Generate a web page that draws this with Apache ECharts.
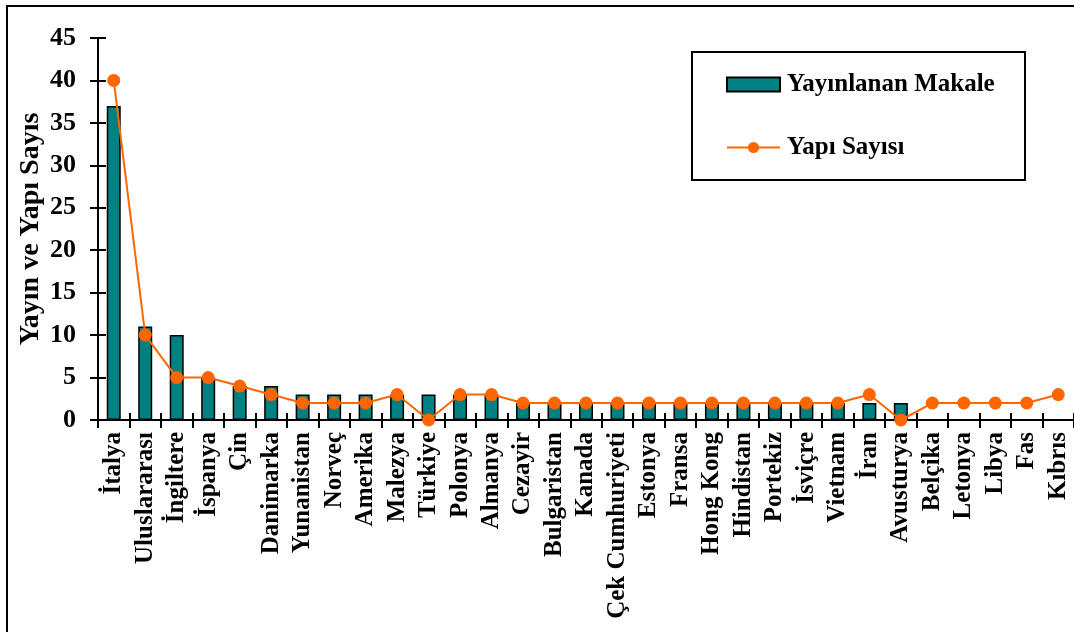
<!DOCTYPE html>
<html>
<head>
<meta charset="utf-8">
<script src="https://cdn.jsdelivr.net/npm/echarts@6/dist/echarts.min.js"></script>
<style>
html, body { margin: 0; padding: 0; background: #fff; }
#chart { width: 1074px; height: 632px; }
</style>
</head>
<body>
<div id="chart"></div>
<script>
// ulkeler
var countries = ['İtalya', 'Uluslararası', 'İngiltere', 'İspanya', 'Çin', 'Danimarka', 'Yunanistan',
    'Norveç', 'Amerika', 'Malezya', 'Türkiye', 'Polonya', 'Almanya', 'Cezayir', 'Bulgaristan',
    'Kanada', 'Çek Cumhuriyeti', 'Estonya', 'Fransa', 'Hong Kong', 'Hindistan', 'Portekiz',
    'İsviçre', 'Vietnam', 'İran', 'Avusturya', 'Belçika', 'Letonya', 'Libya', 'Fas', 'Kıbrıs'];
var makale = [37, 11, 10, 5, 4, 4, 3, 3, 3, 3, 3, 3, 3, 2, 2, 2, 2, 2, 2, 2, 2, 2, 2, 2, 2, 2, 0, 0, 0, 0, 0];
var yapi = [40, 10, 5, 5, 4, 3, 2, 2, 2, 3, 0, 3, 3, 2, 2, 2, 2, 2, 2, 2, 2, 2, 2, 2, 3, 0, 2, 2, 2, 2, 3];

var font = 'Liberation Serif';
var chart = echarts.init(document.getElementById('chart'));

var option = {
    animation: false,
    backgroundColor: '#fff',
    textStyle: { fontFamily: font, fontWeight: 'bold', color: '#000' },
    grid: { left: 98, top: 38, width: 980, height: 382 },
    graphic: [
        {
            type: 'rect',
            shape: { x: 7, y: 6, width: 1100, height: 700 },
            style: { fill: 'none', stroke: '#000', lineWidth: 2 },
            z: 0
        },
        {
            type: 'rect',
            shape: { x: 692, y: 52, width: 333, height: 128 },
            style: { fill: '#fff', stroke: '#000', lineWidth: 2 },
            z: 1
        }
    ],
    legend: {
        orient: 'vertical',
        left: 721,
        top: 67,
        padding: 5,
        itemGap: 38,
        itemWidth: 53,
        itemHeight: 14,
        z: 5,
        textStyle: { fontFamily: font, fontWeight: 'bold', fontSize: 25, color: '#000', padding: [0, 0, 0, 2] },
        data: [
            { name: 'Yayınlanan Makale', icon: 'rect' },
            { name: 'Yapı Sayısı' }
        ]
    },
    xAxis: [
        {
            type: 'category',
            data: countries,
            boundaryGap: true,
            axisLine: { lineStyle: { color: '#000', width: 2 } },
            axisTick: { show: true, interval: 0, length: 8, lineStyle: { color: '#000', width: 2 } },
            axisLabel: {
                rotate: 90,
                interval: 0,
                margin: 12,
                fontFamily: font,
                fontWeight: 'bold',
                fontSize: 25,
                color: '#000'
            }
        },
        {
            type: 'category',
            data: countries,
            position: 'bottom',
            boundaryGap: true,
            axisLine: { show: false },
            axisTick: { show: true, interval: 0, inside: true, length: 7, lineStyle: { color: '#000', width: 2 } },
            axisLabel: { show: false }
        }
    ],
    yAxis: [
        {
            type: 'value',
            min: 0,
            max: 45,
            interval: 5,
            name: 'Yayın ve Yapı Sayıs',
            nameLocation: 'middle',
            nameRotate: 90,
            nameGap: 53,
            nameMoveOverlap: false,
            nameTextStyle: { fontFamily: font, fontWeight: 'bold', fontSize: 28, color: '#000' },
            splitLine: { show: false },
            axisLine: { show: true, lineStyle: { color: '#000', width: 2 } },
            axisTick: { show: true, length: 8, lineStyle: { color: '#000', width: 2 } },
            axisLabel: { margin: 22, fontFamily: font, fontWeight: 'bold', fontSize: 26, color: '#000' }
        },
        {
            type: 'value',
            min: 0,
            max: 45,
            interval: 5,
            position: 'left',
            splitLine: { show: false },
            axisLine: { show: false },
            axisTick: { show: true, inside: true, length: 8, lineStyle: { color: '#000', width: 2 } },
            axisLabel: { show: false }
        }
    ],
    series: [
        {
            name: 'Yayınlanan Makale',
            type: 'bar',
            data: makale,
            barWidth: 14,
            itemStyle: { color: '#008080', borderColor: '#000', borderWidth: 1.5 },
            z: 2
        },
        {
            name: 'Yapı Sayısı',
            type: 'line',
            data: yapi,
            symbol: 'circle',
            symbolSize: 13,
            lineStyle: { color: '#ff6600', width: 2 },
            itemStyle: { color: '#ff6600' },
            z: 3
        }
    ]
};
chart.setOption(option);
</script>
</body>
</html>
